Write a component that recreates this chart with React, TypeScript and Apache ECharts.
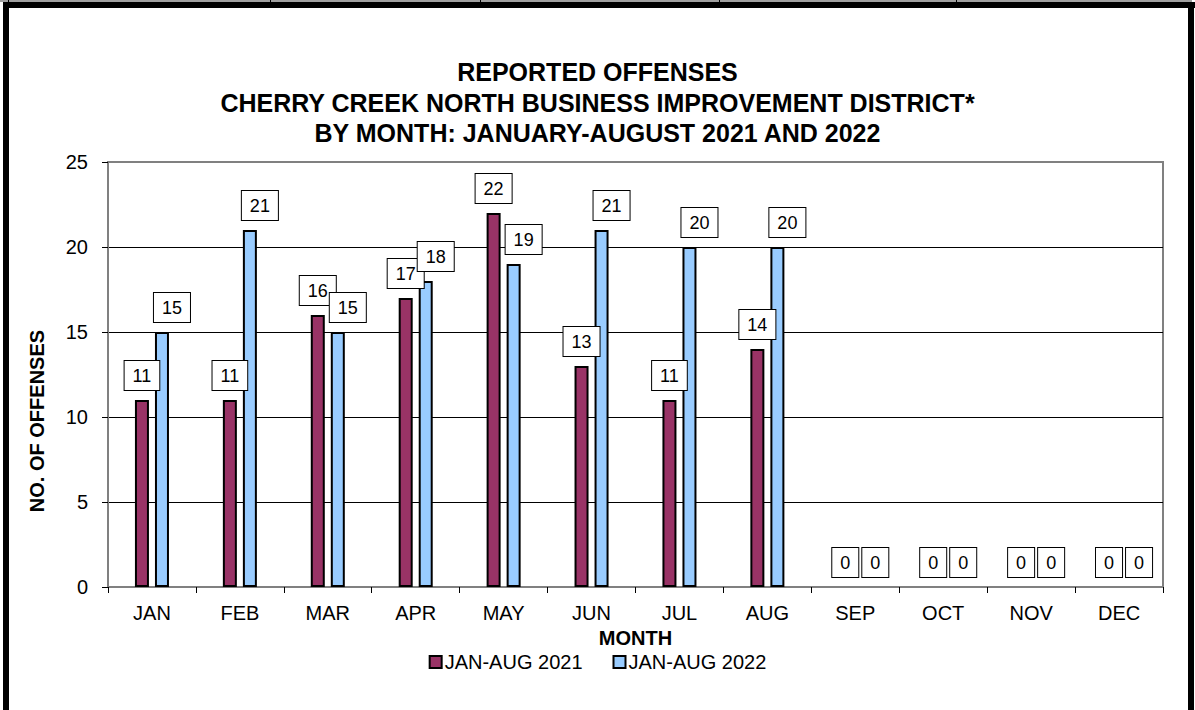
import React, { useEffect, useRef } from "react";
import * as echarts from "echarts";

const months = ["JAN", "FEB", "MAR", "APR", "MAY", "JUN", "JUL", "AUG", "SEP", "OCT", "NOV", "DEC"];
const values2021 = [11, 11, 16, 17, 22, 13, 11, 14, 0, 0, 0, 0];
const values2022 = [15, 21, 15, 18, 19, 21, 20, 20, 0, 0, 0, 0];
const seriesNames = ["JAN-AUG 2021", "JAN-AUG 2022"];
const titleLines = [
  "REPORTED OFFENSES",
  "CHERRY CREEK NORTH BUSINESS IMPROVEMENT DISTRICT*",
  "BY MONTH: JANUARY-AUGUST 2021 AND 2022",
];
const yAxisTitle = "NO. OF OFFENSES";
const xAxisTitle = "MONTH";

const FONT = "'Liberation Sans', Arial, Helvetica, sans-serif";

function toBarData(values: number[]) {
  return values.map((v) => (v === 0 ? { value: v, itemStyle: { borderWidth: 0 } } : v));
}

export default function App() {
  const ref = useRef<HTMLDivElement>(null);
  useEffect(() => {
    document.body.style.margin = "0";
    if (!ref.current) return;
    const chart = echarts.init(ref.current, null, { renderer: "svg" });
    const labelBase = {
      show: true,
      position: "top" as const,
      distance: 10,
      fontFamily: FONT,
      fontSize: 18,
      color: "#000",
      backgroundColor: "#fff",
      borderColor: "#000",
      borderWidth: 1,
      padding: [6, 8, 5, 8],
    };
    chart.setOption({
      animation: false,
      backgroundColor: "#fff",
      textStyle: { fontFamily: FONT },
      title: {
        text: titleLines.join("\n"),
        left: "center",
        top: 52,
        textStyle: {
          fontFamily: FONT,
          fontSize: 25,
          fontWeight: "bold",
          color: "#000",
          lineHeight: 30.5,
        },
      },
      legend: {
        data: seriesNames,
        left: "center",
        top: 647,
        itemWidth: 12,
        itemHeight: 12,
        itemGap: 30,
        icon: "rect",
        itemStyle: { borderColor: "#000", borderWidth: 2 },
        textStyle: { fontFamily: FONT, fontSize: 20, color: "#000", padding: [0, 0, 0, -2] },
      },
      grid: {
        left: 108,
        right: 32,
        top: 162,
        bottom: 123,
        show: true,
        borderColor: "#808080",
        borderWidth: 2,
        backgroundColor: "transparent",
      },
      xAxis: {
        type: "category",
        data: months,
        name: xAxisTitle,
        nameLocation: "middle",
        nameGap: 35,
        nameTextStyle: { fontFamily: FONT, fontSize: 20, fontWeight: "bold", color: "#000" },
        axisLine: { lineStyle: { color: "#808080", width: 2 } },
        axisTick: { show: true, length: 6, lineStyle: { color: "#000", width: 1 } },
        axisLabel: { fontFamily: FONT, fontSize: 20, color: "#000", margin: 16 },
        splitLine: { show: false },
      },
      yAxis: {
        type: "value",
        min: 0,
        max: 25,
        interval: 5,
        axisLine: { show: true, lineStyle: { color: "#808080", width: 2 } },
        axisTick: { show: true, length: 6, lineStyle: { color: "#000", width: 1 } },
        axisLabel: { fontFamily: FONT, fontSize: 20, color: "#000", margin: 20 },
        splitLine: {
          show: true,
          lineStyle: { color: ["#808080", "#000", "#000", "#000", "#000", "#808080"], width: 1 },
        },
      },
      series: [
        {
          name: seriesNames[0],
          type: "bar",
          data: toBarData(values2021),
          barWidth: 14,
          barGap: "43%",
          itemStyle: { color: "#993366", borderColor: "#000", borderWidth: 2 },
          label: { ...labelBase },
        },
        {
          name: seriesNames[1],
          type: "bar",
          data: toBarData(values2022),
          barWidth: 14,
          itemStyle: { color: "#99CCFF", borderColor: "#000", borderWidth: 2 },
          label: { ...labelBase, offset: [10, 0] },
        },
      ],
      graphic: [
        {
          type: "text",
          x: 37,
          y: 421,
          rotation: Math.PI / 2,
          style: {
            text: yAxisTitle,
            fontFamily: FONT,
            fontSize: 20,
            fontWeight: "bold",
            fill: "#000",
            align: "center",
            verticalAlign: "middle",
          },
        },
        { type: "rect", shape: { x: 0, y: 0, width: 1192, height: 2 }, style: { fill: "#a0a0a0" }, silent: true },
        { type: "rect", shape: { x: 3, y: 2, width: 1192, height: 6 }, style: { fill: "#000" }, silent: true },
        { type: "rect", shape: { x: 3, y: 2, width: 6, height: 708 }, style: { fill: "#000" }, silent: true },
        { type: "rect", shape: { x: 1188, y: 2, width: 6, height: 708 }, style: { fill: "#000" }, silent: true },
        { type: "rect", shape: { x: 8, y: 0, width: 1, height: 2 }, style: { fill: "#000" }, silent: true },
        { type: "rect", shape: { x: 270, y: 0, width: 1, height: 2 }, style: { fill: "#000" }, silent: true },
        { type: "rect", shape: { x: 480, y: 0, width: 1, height: 2 }, style: { fill: "#000" }, silent: true },
        { type: "rect", shape: { x: 719, y: 0, width: 1, height: 2 }, style: { fill: "#000" }, silent: true },
        { type: "rect", shape: { x: 956, y: 0, width: 1, height: 2 }, style: { fill: "#000" }, silent: true },
      ],
    });
    return () => chart.dispose();
  }, []);
  return <div ref={ref} style={{ width: 1195, height: 710 }} />;
}
